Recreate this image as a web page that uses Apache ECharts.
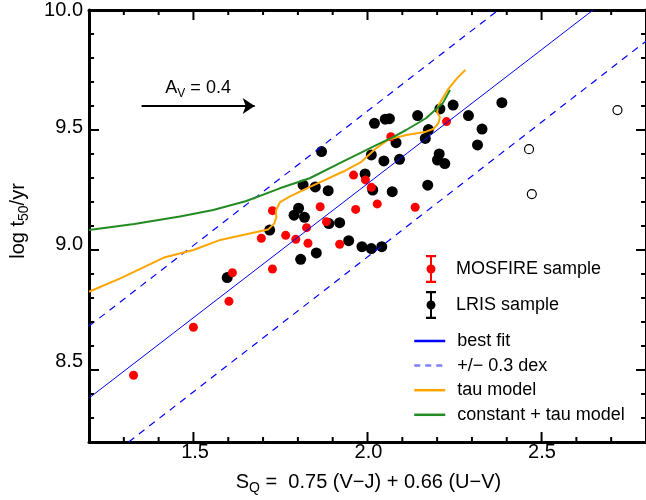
<!DOCTYPE html>
<html>
<head>
<meta charset="utf-8">
<script src="https://cdn.jsdelivr.net/npm/echarts@6/dist/echarts.min.js"></script>
<style>
  html, body { margin: 0; padding: 0; background: #fff; }
  #chart { width: 646px; height: 500px; }
</style>
</head>
<body>
<div id="chart"></div>
<script>
// axis ranges and ticks
var xMin = 1.2, xMax = 2.8, yMin = 8.2, yMax = 10.0;
var xMajor = [1.5, 2.0, 2.5];
var yMajor = [8.5, 9.0, 9.5, 10.0];
var xTicks = [1.2, 1.3, 1.4, 1.5, 1.6, 1.7, 1.8, 1.9, 2.0, 2.1, 2.2, 2.3, 2.4, 2.5, 2.6, 2.7, 2.8];
var yTicks = [8.2, 8.3, 8.4, 8.5, 8.6, 8.7, 8.8, 8.9, 9.0, 9.1, 9.2, 9.3, 9.4, 9.5, 9.6, 9.7, 9.8, 9.9, 10.0];

// MOSFIRE sample [S_Q, log t50]
var mosfire = [
  [1.328, 8.478], [1.500, 8.678], [1.602, 8.786], [1.612, 8.905], [1.727, 9.164],
  [1.695, 9.049], [1.727, 8.921], [1.765, 9.061], [1.794, 9.045], [1.825, 9.093],
  [1.829, 9.028], [1.864, 9.180], [1.882, 9.118], [1.920, 9.024], [1.960, 9.312],
  [1.994, 9.292], [2.011, 9.261], [2.028, 9.192], [1.966, 9.169], [2.137, 9.178],
  [2.067, 9.472], [2.227, 9.535]
];

// LRIS sample
var lris = [
  [1.597, 8.885], [1.719, 9.083], [1.802, 9.174], [1.789, 9.145], [1.819, 9.136],
  [1.808, 8.961], [1.853, 8.988], [1.815, 9.271], [1.850, 9.263], [1.868, 9.410],
  [1.887, 9.247], [1.889, 9.110], [1.920, 9.114], [1.946, 9.039], [1.984, 9.014],
  [2.011, 9.006], [2.041, 9.014], [1.993, 9.317], [2.015, 9.250], [2.071, 9.243],
  [2.173, 9.270], [2.011, 9.396], [2.047, 9.371], [2.092, 9.378], [2.020, 9.528],
  [2.051, 9.545], [2.063, 9.547], [2.144, 9.560], [2.082, 9.447], [2.175, 9.502],
  [2.166, 9.465], [2.206, 9.400], [2.201, 9.375], [2.222, 9.360], [2.208, 9.588],
  [2.246, 9.604], [2.386, 9.614], [2.290, 9.560], [2.329, 9.504], [2.316, 9.438]
];

// LRIS open circles
var lrisOpen = [[2.464, 9.420], [2.472, 9.233], [2.718, 9.583]];

// best fit and +/- 0.3 dex lines (end points)
var fitLine = [[1.2, 8.383], [2.648, 10.0]];
var fitUpper = [[1.2, 8.683], [2.376, 10.0]];
var fitLower = [[1.314, 8.2], [2.8, 9.87]];

// model tracks
var tauModel = [
  [1.200, 8.826], [1.290, 8.882], [1.418, 8.970], [1.500, 9.000], [1.577, 9.042],
  [1.714, 9.085], [1.732, 9.110], [1.738, 9.136], [1.737, 9.165], [1.748, 9.198],
  [1.776, 9.222], [1.830, 9.260], [1.929, 9.326], [1.980, 9.365], [2.025, 9.424],
  [2.060, 9.460], [2.111, 9.479], [2.168, 9.493], [2.190, 9.505], [2.204, 9.530],
  [2.208, 9.553], [2.200, 9.574], [2.203, 9.600], [2.230, 9.667], [2.257, 9.715],
  [2.281, 9.750]
];
var constTauModel = [
  [1.200, 9.083], [1.330, 9.108], [1.461, 9.140], [1.557, 9.167], [1.652, 9.204],
  [1.748, 9.257], [1.834, 9.299], [1.929, 9.368], [2.025, 9.437], [2.072, 9.469],
  [2.111, 9.500], [2.168, 9.549], [2.216, 9.611], [2.237, 9.667]
];

// A_V = 0.4 reddening vector
var avArrow = [[1.351, 9.6], [1.676, 9.6]];

var font = 'Liberation Sans';
var ebarIcon = 'path://M0,0H10V2.2H6V25.8H10V28H0V25.8H4V2.2H0Z M5,9.5A4.5,4.5,0,1,1,5,18.5A4.5,4.5,0,1,1,5,9.5Z';
var plotRect = { left: 89, right: -1, top: 10, bottom: 58 };

function frameX(pos) {
  return {
    type: 'value', gridIndex: 0, position: pos, min: xMin, max: xMax, splitLine: { show: false },
    axisLine: { show: true, onZero: false, lineStyle: { color: '#000', width: 3 } },
    axisTick: { show: false }, axisLabel: { show: false }
  };
}
function frameY(pos) {
  return {
    type: 'value', gridIndex: 0, position: pos, min: yMin, max: yMax, splitLine: { show: false },
    axisLine: { show: true, onZero: false, lineStyle: { color: '#000', width: 3 } },
    axisTick: { show: false }, axisLabel: { show: false }
  };
}

var subRich = {
  a: { fontSize: 20, fontFamily: font, color: '#000', lineHeight: 26 },
  s: { fontSize: 14, fontFamily: font, color: '#000', lineHeight: 13, verticalAlign: 'bottom' }
};
function tickText(v) { return '{t|' + v.toFixed(1) + '}'; }

var xLabelAxis = {
  type: 'value', gridIndex: 1, position: 'bottom', min: xMin, max: xMax,
  splitLine: { show: false }, axisLine: { show: false }, axisTick: { show: false },
  axisLabel: {
    show: true, customValues: xMajor, formatter: tickText,
    rich: { t: { fontSize: 20, fontFamily: font, color: '#000', padding: [2, 0, 0, 0] } }
  },
  name: '{a|S}{s|Q}{a| =  0.75 (V\u2212J) + 0.66 (U\u2212V)}',
  nameLocation: 'middle', nameGap: 37,
  nameTextStyle: { rich: subRich }
};
var yLabelAxis = {
  type: 'value', gridIndex: 1, position: 'left', min: yMin, max: yMax,
  splitLine: { show: false }, axisLine: { show: false }, axisTick: { show: false },
  axisLabel: {
    show: true, customValues: yMajor, formatter: tickText,
    rich: { t: { fontSize: 20, fontFamily: font, color: '#000' } }
  },
  name: '{a|log t}{s|50}{a|/yr}',
  nameLocation: 'middle', nameRotate: 90, nameGap: 60,
  nameTextStyle: { rich: subRich }
};

// inward tick marks on all four sides, placed through the axis scales
var xTickData = xTicks.map(function (v) { return [v, xMajor.indexOf(v) >= 0 ? 1 : 0]; });
var yTickData = yTicks.map(function (v) { return [v, yMajor.indexOf(v) >= 0 ? 1 : 0]; });
var tickStyle = { stroke: '#000', lineWidth: 2 };

function renderXTicks(params, api) {
  var v = api.value(0), len = api.value(1) ? 10 : 5;
  var b = api.coord([v, yMin]), t = api.coord([v, yMax]);
  return { type: 'group', children: [
    { type: 'line', shape: { x1: b[0], y1: b[1], x2: b[0], y2: b[1] - len }, style: tickStyle },
    { type: 'line', shape: { x1: t[0], y1: t[1], x2: t[0], y2: t[1] + len }, style: tickStyle }
  ] };
}
function renderYTicks(params, api) {
  var v = api.value(0), len = api.value(1) ? 10 : 5;
  var l = api.coord([xMin, v]), r = api.coord([xMax, v]);
  return { type: 'group', children: [
    { type: 'line', shape: { x1: l[0], y1: l[1], x2: l[0] + len, y2: l[1] }, style: tickStyle },
    { type: 'line', shape: { x1: r[0], y1: r[1], x2: r[0] - len, y2: r[1] }, style: tickStyle }
  ] };
}

var chart = echarts.init(document.getElementById('chart'));

var option = {
  animation: false,
  grid: [plotRect, Object.assign({}, plotRect)],
  xAxis: [frameX('bottom'), frameX('top'), xLabelAxis],
  yAxis: [frameY('left'), frameY('right'), yLabelAxis],
  legend: [
    {
      orient: 'vertical', left: 426, top: 255, padding: 0,
      itemWidth: 36, itemHeight: 28, itemGap: 8, selectedMode: false,
      formatter: '{t|{name}}',
      textStyle: { rich: { t: { fontSize: 18, fontFamily: font, color: '#000', padding: [0, 0, 0, 2] } } },
      data: [{ name: 'MOSFIRE sample', icon: ebarIcon }, { name: 'LRIS sample', icon: ebarIcon }]
    },
    {
      orient: 'vertical', left: 413, top: 332, padding: 0,
      itemWidth: 31, itemHeight: 14, itemGap: 6.6, selectedMode: false,
      itemStyle: { opacity: 0 },
      lineStyle: { width: 2.5 },
      formatter: '{t|{name}}',
      textStyle: { rich: { t: { fontSize: 18, fontFamily: font, color: '#000', padding: [0, 0, 0, 7] } } },
      data: [
        'best fit',
        { name: '+/\u2212 0.3 dex', lineStyle: { color: '#8080ff', width: 2.5, type: [6, 5] } },
        'tau model',
        'constant + tau model'
      ]
    }
  ],
  series: [
    {
      name: 'xticks', type: 'custom', coordinateSystem: 'cartesian2d', clip: false, silent: true,
      data: xTickData, renderItem: renderXTicks, z: 5
    },
    {
      name: 'yticks', type: 'custom', coordinateSystem: 'cartesian2d', clip: false, silent: true,
      data: yTickData, renderItem: renderYTicks, z: 5
    },
    {
      name: 'LRIS sample', type: 'scatter', data: lris, symbolSize: 11,
      itemStyle: { color: '#000', opacity: 1 }
    },
    {
      name: 'MOSFIRE sample', type: 'scatter', data: mosfire, symbolSize: 9,
      itemStyle: { color: '#ff0000', opacity: 1 }
    },
    {
      name: 'LRIS other', type: 'scatter', data: lrisOpen, symbolSize: 9,
      itemStyle: { color: 'rgba(0,0,0,0)', borderColor: '#000', borderWidth: 1.2, opacity: 1 }
    },
    {
      name: 'best fit', type: 'line', data: fitLine, symbol: 'none',
      lineStyle: { color: '#0000ff', width: 1 }, itemStyle: { color: '#0000ff' }
    },
    {
      name: '+/\u2212 0.3 dex', type: 'line', data: fitUpper, symbol: 'none',
      lineStyle: { color: '#0000ff', width: 1.2, type: [7, 6] }, itemStyle: { color: '#0000ff' }
    },
    {
      name: '+/\u2212 0.3 dex', type: 'line', data: fitLower, symbol: 'none',
      lineStyle: { color: '#0000ff', width: 1.2, type: [7, 6] }, itemStyle: { color: '#0000ff' }
    },
    {
      name: 'tau model', type: 'line', data: tauModel, symbol: 'none',
      lineStyle: { color: '#ffa500', width: 2 }, itemStyle: { color: '#ffa500' }
    },
    {
      name: 'constant + tau model', type: 'line', data: constTauModel, symbol: 'none',
      lineStyle: { color: '#228b22', width: 2 }, itemStyle: { color: '#228b22' }
    },
    {
      name: 'A_V', type: 'lines', coordinateSystem: 'cartesian2d',
      data: [{ coords: avArrow }],
      symbol: ['none', 'arrow'], symbolSize: 12,
      lineStyle: { color: '#000', width: 2, opacity: 1 },
      label: {
        show: true, position: 'insideMiddleTop', distance: 6,
        formatter: '{a|A}{s|V}{a| = 0.4}',
        rich: {
          a: { fontSize: 18, fontFamily: font, color: '#000', lineHeight: 24 },
          s: { fontSize: 12, fontFamily: font, color: '#000', lineHeight: 12, verticalAlign: 'bottom' }
        }
      }
    }
  ]
};

chart.setOption(option);
</script>
</body>
</html>
